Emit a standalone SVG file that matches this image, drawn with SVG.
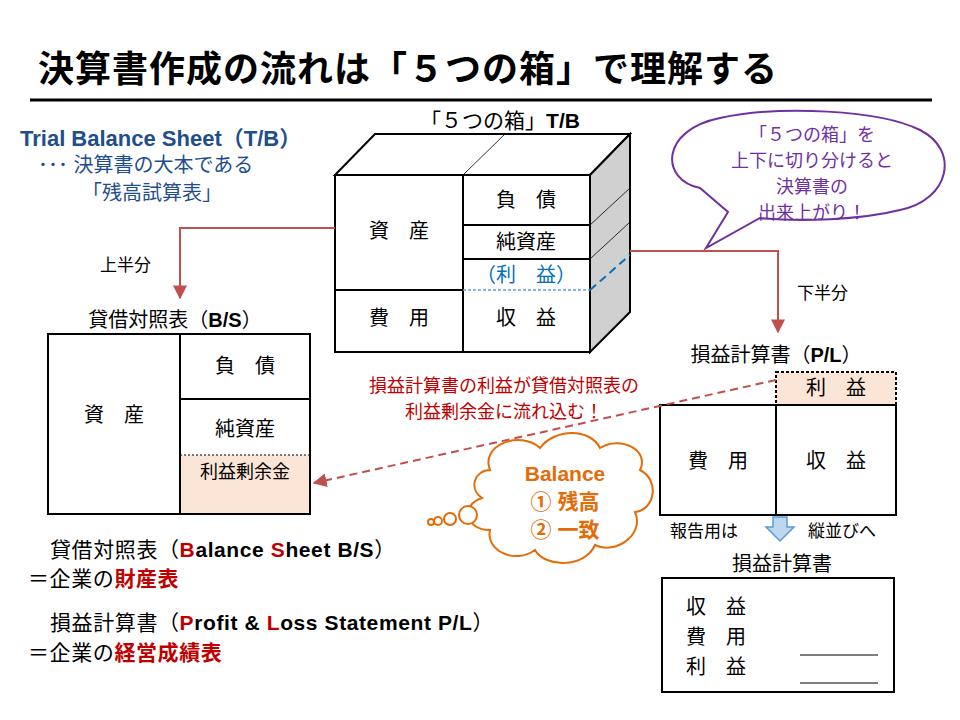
<svg xmlns="http://www.w3.org/2000/svg" width="960" height="720" viewBox="0 0 960 720">
<style>
text{font-family:"Liberation Sans","Noto Sans CJK JP",sans-serif;}
.b{fill:#fff;stroke:#000;stroke-width:2}
.t{font-size:20px;fill:#000;text-anchor:middle}
.blue{fill:#1f4e8c}
</style>
<defs>
<marker id="ar" viewBox="0 0 10 10" refX="9" refY="5" markerWidth="7" markerHeight="7" orient="auto"><path d="M0,0L10,5L0,10z" fill="#c0504d"/></marker>
</defs>
<rect width="960" height="720" fill="#fff"/>
<text x="38" y="82" font-size="36" font-weight="bold" letter-spacing="1">決算書作成の流れは「５つの箱」で理解する</text>
<line x1="30" y1="100" x2="932" y2="100" stroke="#000" stroke-width="3"/>
<g id="tb-label">
<text x="20" y="146" font-size="22" font-weight="bold" class="blue">Trial Balance Sheet（T/B）</text>
<text x="38" y="172" font-size="20" class="blue">･･･  決算書の大本である</text>
<text x="82" y="200" font-size="20" class="blue">「残高試算表」</text>
</g>
<g id="cube">
<text x="500" y="128" class="t" font-size="21" style="font-size:21px">「５つの箱」<tspan font-weight="bold">T/B</tspan></text>
<polygon points="335,175 375,134 630,134 590,175" class="b"/>
<polygon points="590,175 630,134 630,312 590,352" fill="#d0d0d0" stroke="#000" stroke-width="2"/>
<rect x="335" y="175" width="255" height="177" class="b"/>
<line x1="463" y1="175" x2="505" y2="134" stroke="#000" stroke-width="0.8"/>
<line x1="590" y1="225" x2="630" y2="188" stroke="#000" stroke-width="0.8"/>
<line x1="590" y1="259" x2="630" y2="222" stroke="#000" stroke-width="0.8"/>
<line x1="590" y1="290" x2="630" y2="255" stroke="#0070c0" stroke-width="2" stroke-dasharray="8,5"/>
<line x1="463" y1="175" x2="463" y2="352" stroke="#000" stroke-width="2"/>
<line x1="463" y1="225" x2="590" y2="225" stroke="#000" stroke-width="2"/>
<line x1="463" y1="259" x2="590" y2="259" stroke="#000" stroke-width="2"/>
<line x1="335" y1="290" x2="463" y2="290" stroke="#000" stroke-width="2"/>
<line x1="463" y1="290" x2="590" y2="290" stroke="#5aa0e0" stroke-width="1.5" stroke-dasharray="3,2"/>
<text x="399" y="238" class="t">資　産</text>
<text x="399" y="325" class="t">費　用</text>
<text x="526" y="207" class="t">負　債</text>
<text x="526" y="249" class="t">純資産</text>
<text x="526" y="282" class="t" style="fill:#0070c0">（利　益）</text>
<text x="526" y="325" class="t">収　益</text>
</g>
<g id="bubble">
<path d="M700,188 C660,180 660,130 720,118 C780,105 880,110 920,130 C960,150 950,200 900,210 C860,220 800,222 760,218 L706,248 L728,212 Z" fill="#fff" stroke="#7030a0" stroke-width="2"/>
<g font-size="18" fill="#7030a0" text-anchor="middle">
<text x="812" y="141">「５つの箱」を</text>
<text x="812" y="167">上下に切り分けると</text>
<text x="812" y="193">決算書の</text>
<text x="812" y="219">出来上がり！</text>
</g>
</g>
<g id="bs">
<text x="175" y="327" class="t">貸借対照表（<tspan font-weight="bold">B/S</tspan>）</text>
<rect x="48" y="334" width="262" height="180" class="b"/>
<rect x="180" y="455" width="130" height="59" fill="#fbe5d6"/>
<line x1="180" y1="334" x2="180" y2="514" stroke="#000" stroke-width="2"/>
<line x1="180" y1="399" x2="310" y2="399" stroke="#000" stroke-width="2"/>
<line x1="180" y1="455" x2="310" y2="455" stroke="#000" stroke-width="1.2" stroke-dasharray="2,2"/>
<rect x="48" y="334" width="262" height="180" fill="none" stroke="#000" stroke-width="2"/>
<text x="114" y="422" class="t">資　産</text>
<text x="245" y="373" class="t">負　債</text>
<text x="245" y="436" class="t">純資産</text>
<text x="245" y="478" class="t" style="font-size:18px">利益剰余金</text>
</g>
<g id="pl">
<text x="776" y="362" class="t">損益計算書（<tspan font-weight="bold">P/L</tspan>）</text>
<rect x="776" y="372" width="120" height="33" fill="#fbe5d6" stroke="#000" stroke-width="2" stroke-dasharray="3,2"/>
<text x="836" y="395" class="t">利　益</text>
<rect x="660" y="405" width="236" height="110" class="b"/>
<line x1="776" y1="405" x2="776" y2="515" stroke="#000" stroke-width="2"/>
<text x="718" y="468" class="t">費　用</text>
<text x="836" y="468" class="t">収　益</text>
<text x="670" y="537" font-size="17">報告用は</text>
<path d="M773,517 h14 v10 h7 l-14,14 l-14,-14 h7z" fill="#bdd7ee" stroke="#5b9bd5" stroke-width="1.5"/>
<text x="808" y="537" font-size="17">縦並びへ</text>
<text x="782" y="571" class="t">損益計算書</text>
<rect x="662" y="578" width="232" height="114" class="b"/>
<text x="686" y="614" font-size="20">収　益</text>
<text x="686" y="644" font-size="20">費　用</text>
<text x="686" y="674" font-size="20">利　益</text>
<line x1="800" y1="655" x2="878" y2="655" stroke="#000"/>
<line x1="800" y1="683" x2="878" y2="683" stroke="#000"/>
</g>
<g id="connectors" fill="none" stroke="#c0504d" stroke-width="2">
<polyline points="335,228 180,228 180,298" marker-end="url(#ar)"/>
<polyline points="630,251 778,251 778,332" marker-end="url(#ar)"/>
<line x1="776" y1="380" x2="314" y2="483" stroke-dasharray="8,5" marker-end="url(#ar)"/>
</g>
<text x="100" y="271" font-size="17">上半分</text>
<text x="797" y="299" font-size="17">下半分</text>
<g font-size="18" text-anchor="middle" fill="#c00000">
<text x="504" y="392">損益計算書の利益が貸借対照表の</text>
<text x="504" y="418">利益剰余金に流れ込む！</text>
</g>
<g id="cloud" fill="#fff" stroke="#e36c09" stroke-width="2">
<path d="M490,470 C480,445 520,430 540,448 C555,428 590,428 600,448 C620,435 650,450 640,470 C660,480 655,510 635,512 C645,535 615,555 595,545 C585,568 545,568 535,550 C515,565 485,550 490,530 C465,530 460,505 482,498 C468,488 475,470 490,470 Z"/>
<circle cx="468" cy="515" r="9"/>
<circle cx="450" cy="519" r="6"/>
<circle cx="438" cy="521" r="4"/>
<circle cx="431" cy="522" r="3"/>
</g>
<g font-size="21" font-weight="bold" fill="#e36c09" text-anchor="middle">
<text x="565" y="481">Balance</text>
<text x="565" y="509">① 残高</text>
<text x="565" y="537">② 一致</text>
</g>
<g font-size="21" letter-spacing="0.6">
<text x="50" y="557">貸借対照表（<tspan font-weight="bold" fill="#c00000">B</tspan><tspan font-weight="bold">alance </tspan><tspan font-weight="bold" fill="#c00000">S</tspan><tspan font-weight="bold">heet  B/S</tspan>）</text>
<text x="28" y="586">＝企業の<tspan font-weight="bold" fill="#c00000">財産表</tspan></text>
<text x="50" y="630">損益計算書（<tspan font-weight="bold" fill="#c00000">P</tspan><tspan font-weight="bold">rofit &amp; </tspan><tspan font-weight="bold" fill="#c00000">L</tspan><tspan font-weight="bold">oss Statement  P/L</tspan>）</text>
<text x="28" y="660">＝企業の<tspan font-weight="bold" fill="#c00000">経営成績表</tspan></text>
</g>
</svg>
